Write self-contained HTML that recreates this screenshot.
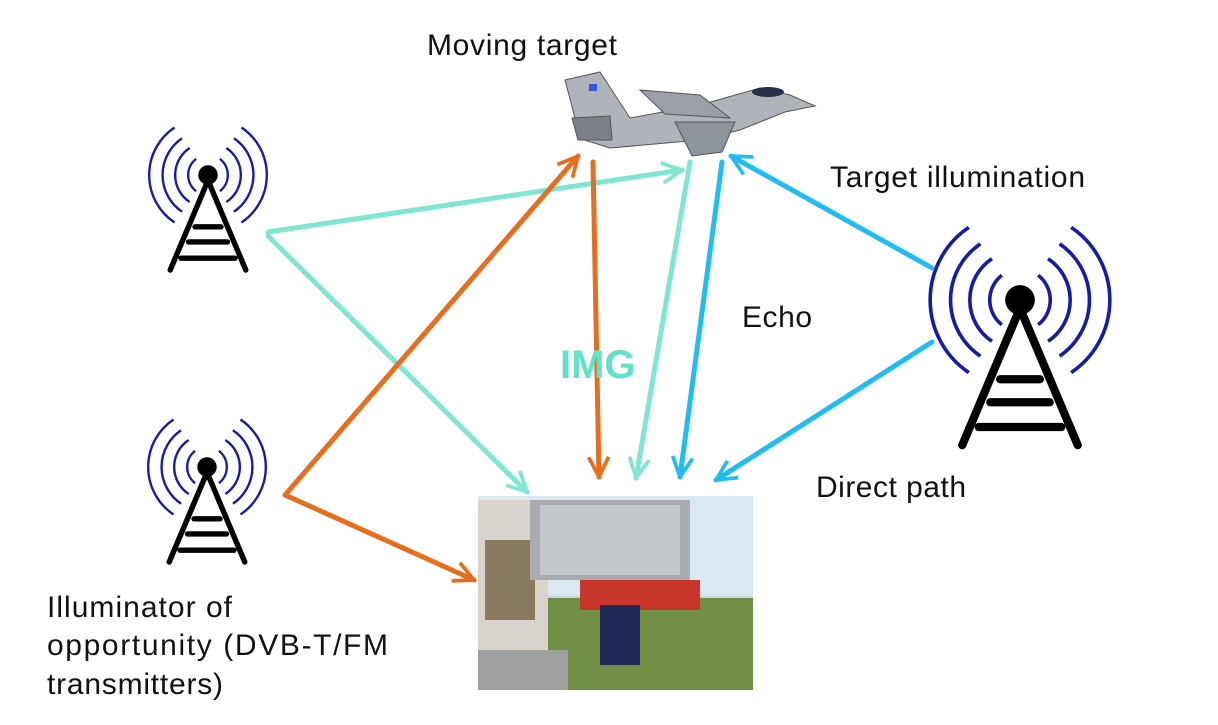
<!DOCTYPE html>
<html><head><meta charset="utf-8"><style>
html,body{margin:0;padding:0;background:#fff;}
svg{display:block;}
text{font-family:"Liberation Sans",sans-serif;font-size:30px;fill:#111;}
</style></head><body>
<svg width="1218" height="725" viewBox="0 0 1218 725">
<defs>
<g id="tower">
  <g fill="none" stroke="#1a1aa8" stroke-width="2.2">
    <path d="M-11,-15 A19,19 0 0 0 -11,15"/><path d="M11,-15 A19,19 0 0 1 11,15"/>
    <path d="M-17,-25 A30,30 0 0 0 -17,25"/><path d="M17,-25 A30,30 0 0 1 17,25"/>
    <path d="M-24,-34 A41,41 0 0 0 -24,34"/><path d="M24,-34 A41,41 0 0 1 24,34"/>
    <path d="M-31,-44 A53,53 0 0 0 -31,44"/><path d="M31,-44 A53,53 0 0 1 31,44"/>
  </g>
  <circle cx="0" cy="0" r="9" fill="#000"/>
  <g stroke="#000" stroke-width="5" fill="none" stroke-linecap="round">
    <path d="M0,5 L-35,88"/><path d="M0,5 L35,88"/>
    <path d="M-12,48 L12,48"/><path d="M-18,62 L18,62"/><path d="M-25,77 L25,77"/>
  </g>
</g>
<marker id="ac" viewBox="0 0 20 20" refX="18" refY="10" markerWidth="5" markerHeight="5" orient="auto" markerUnits="strokeWidth"><path d="M2,2 L18,10 L2,18" fill="none" stroke="context-stroke" stroke-width="3"/></marker>
</defs>

<g transform="translate(208,175) scale(1.08)"><use href="#tower"/></g>
<g transform="translate(207,467) scale(1.08)"><use href="#tower"/></g>
<g transform="translate(1020,300) scale(1.65)"><use href="#tower"/></g>

<g>
<rect x="478" y="496" width="275" height="194" fill="#c9d4dc"/>
<rect x="478" y="496" width="275" height="100" fill="#dce8f0"/>
<rect x="478" y="598" width="275" height="92" fill="#6f8f45"/>
<rect x="478" y="500" width="70" height="190" fill="#d8d4cc"/>
<rect x="485" y="540" width="50" height="80" fill="#8a7a60"/>
<rect x="530" y="500" width="160" height="80" fill="#a8acb0"/>
<rect x="540" y="505" width="140" height="70" fill="#c4c8cc"/>
<rect x="580" y="580" width="120" height="30" fill="#c8362a"/>
<rect x="600" y="605" width="40" height="60" fill="#1e2a55"/>
<rect x="478" y="650" width="90" height="40" fill="#a0a0a0"/>
</g>

<g fill="none" stroke-width="5" stroke-linecap="round">
<g stroke="#7fe6cf">
<line x1="268" y1="232" x2="682" y2="170" marker-end="url(#ac)"/>
<line x1="268" y1="236" x2="527" y2="492" marker-end="url(#ac)"/>
<line x1="690" y1="162" x2="636" y2="478" marker-end="url(#ac)"/>
</g>
<g stroke="#e86e1e">
<line x1="285" y1="495" x2="578" y2="156" marker-end="url(#ac)"/>
<line x1="285" y1="495" x2="474" y2="580" marker-end="url(#ac)"/>
<line x1="593" y1="162" x2="599" y2="477" marker-end="url(#ac)"/>
</g>
<g stroke="#22bdf0">
<line x1="932" y1="268" x2="731" y2="156" marker-end="url(#ac)"/>
<line x1="722" y1="162" x2="680" y2="477" marker-end="url(#ac)"/>
<line x1="932" y1="342" x2="716" y2="480" marker-end="url(#ac)"/>
</g>
</g>

<g stroke="#555" stroke-width="1">
<path d="M565,80 L600,72 L630,118 L700,105 L760,88 L790,95 L815,106 L785,112 L740,130 L700,140 L610,148 L578,138 L575,118 Z" fill="#b0b4ba"/>
<path d="M640,90 L700,95 L730,118 L665,114 Z" fill="#9aa0a8"/>
<path d="M675,122 L735,122 L722,152 L692,156 Z" fill="#8e949c"/>
<path d="M572,118 L610,116 L612,140 L578,140 Z" fill="#7c8088"/>
<ellipse cx="768" cy="92" rx="16" ry="5" fill="#26304a" stroke="none"/>
<rect x="589" y="84" width="8" height="7" fill="#2d5bd8" stroke="none"/>
</g>

<text x="427" y="55" textLength="190">Moving target</text>
<text x="830" y="187" textLength="255">Target illumination</text>
<text x="742" y="327" textLength="70">Echo</text>
<text x="816" y="497" textLength="150">Direct path</text>
<text x="47" y="617" textLength="185">Illuminator of</text>
<text x="47" y="655" textLength="341">opportunity (DVB-T/FM</text>
<text x="47" y="694" textLength="176">transmitters)</text>
<text x="560" y="378" style="font-size:40px;font-weight:bold;fill:#5fe2c8">IMG</text>
</svg>
</body></html>
